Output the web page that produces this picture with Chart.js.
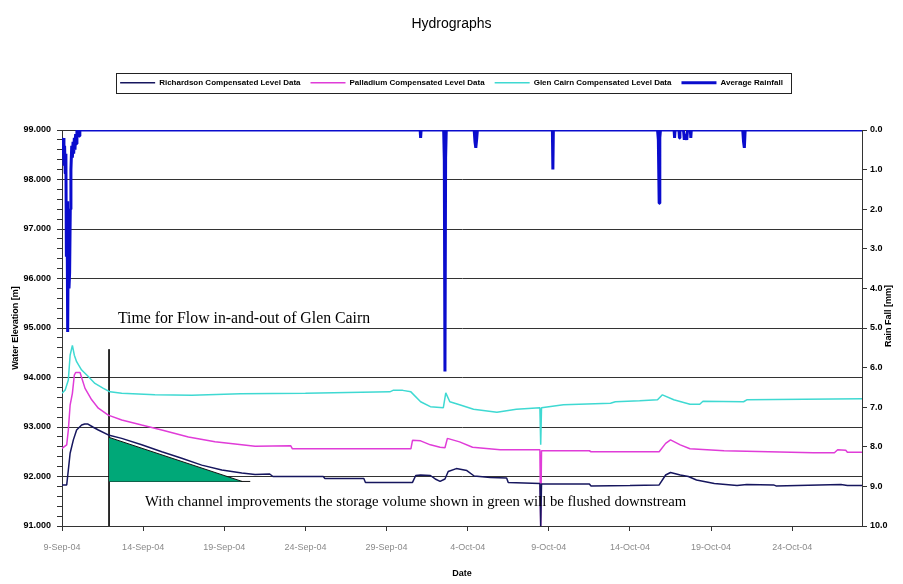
<!DOCTYPE html>
<html><head><meta charset="utf-8">
<script src="https://cdn.jsdelivr.net/npm/chart.js@4/dist/chart.umd.min.js"></script>
<style>html,body{margin:0;padding:0;background:#fff;}</style>
</head><body>
<canvas id="c" width="903" height="584"></canvas>
<script>
// ---- data (x = days since 9-Sep-04 00:00) ----
const xTickDays = [0, 5, 10, 15, 20, 25, 30, 35, 40, 45];
const xTickLabels = ['9-Sep-04','14-Sep-04','19-Sep-04','24-Sep-04','29-Sep-04','4-Oct-04','9-Oct-04','14-Oct-04','19-Oct-04','24-Oct-04'];
const seriesNames = ['Richardson Compensated Level Data','Palladium Compensated Level Data','Glen Cairn Compensated Level Data','Average Rainfall'];

const richDays = [0,0.29,0.39,0.5,0.7,0.9,1.21,1.4,1.6,1.9,2.24,2.85,3.68,4.91,6.15,7.38,8.61,9.85,11.08,11.9,12.8,13.0,16.1,16.2,18.6,18.7,21.6,21.8,22.1,22.7,23.0,23.3,23.6,23.8,24.3,24.95,25.4,26.4,27.4,27.5,29.45,29.5,29.55,32.5,32.6,35.0,36.8,37.2,37.5,38.1,38.6,39.1,40.2,41.6,42.2,43.85,44.0,48.0,48.4,49.3];
const richLevels = [91.83,91.83,92.13,92.47,92.74,92.94,93.04,93.06,93.06,93.0,92.94,92.84,92.77,92.64,92.5,92.37,92.23,92.13,92.07,92.04,92.05,92.0,92.0,91.96,91.96,91.88,91.88,92.02,92.03,92.02,91.95,91.9,91.95,92.1,92.16,92.12,92.01,91.98,91.97,91.88,91.86,91.0,91.85,91.85,91.81,91.82,91.83,92.03,92.08,92.03,92.0,91.93,91.86,91.82,91.84,91.83,91.81,91.84,91.82,91.82];

const pallDays = [0,0.29,0.39,0.5,0.64,0.76,0.84,1.11,1.42,1.83,2.24,2.85,3.68,4.91,6.15,7.79,9.43,11.08,11.9,14.1,14.2,21.5,21.6,22.1,22.7,23.3,23.6,23.75,24.5,25.3,27.0,29.45,29.5,29.55,32.5,32.6,36.8,37.2,37.5,38.1,38.7,40.8,46.3,47.6,47.8,48.3,48.4,49.3];
const pallLevels = [92.57,92.64,92.94,93.44,93.68,94.05,94.1,94.1,93.78,93.55,93.38,93.24,93.14,93.04,92.94,92.8,92.7,92.64,92.61,92.62,92.56,92.56,92.73,92.72,92.64,92.59,92.58,92.77,92.7,92.59,92.54,92.54,91.0,92.52,92.52,92.5,92.5,92.67,92.74,92.64,92.56,92.52,92.48,92.48,92.54,92.53,92.49,92.49];

const glenDays = [0,0.2,0.39,0.5,0.64,0.76,0.9,1.21,1.62,2.03,2.55,2.96,3.68,5.73,8.0,11.0,15.0,20.2,20.4,21.0,21.5,22.1,22.7,23.5,23.65,23.9,24.5,25.36,26.8,28.0,29.45,29.5,29.55,30.9,33.8,34.1,35.6,36.7,37.0,37.7,38.7,39.3,39.5,42.0,42.2,49.3];
const glenLevels = [93.68,93.75,93.95,94.45,94.65,94.45,94.32,94.15,94.02,93.88,93.78,93.71,93.68,93.65,93.64,93.67,93.68,93.71,93.74,93.74,93.71,93.51,93.41,93.39,93.69,93.51,93.45,93.36,93.3,93.36,93.39,92.64,93.39,93.45,93.48,93.51,93.53,93.55,93.65,93.55,93.46,93.46,93.52,93.51,93.55,93.57];

const rainDays = [0,0.04,0.08,0.12,0.16,0.2,0.24,0.27,0.31,0.35,0.39,0.43,0.47,0.51,0.55,0.6,0.64,0.68,0.72,0.76,0.8,0.84,0.88,0.92,1.05,1.1,22.07,22.1,22.13,23.52,23.56,23.6,23.64,23.68,25.4,25.45,25.5,25.55,25.6,30.22,30.25,30.28,36.7,36.75,36.8,36.84,36.88,37.72,37.75,37.78,38.02,38.05,38.08,38.3,38.35,38.4,38.5,38.55,38.72,38.75,38.78,41.95,42.0,42.05,42.1,49.3];
const rainMm = [0.3,0.6,0.2,0.9,0.4,1.1,0.6,3.2,1.8,5.1,2.4,4.0,3.6,2.0,1.0,0.4,0.7,0.3,0.6,0.2,0.5,0.1,0.35,0,0.15,0,0,0.2,0,0,0.75,6.1,0.7,0,0,0.3,0.45,0.25,0,0,1.0,0,0,0.25,1.85,0.2,0,0,0.2,0,0,0.2,0,0,0.25,0.1,0.25,0,0,0.2,0,0,0.3,0.45,0,0];

// ---- annotation marks ----
const markerDays = [2.9, 2.9];
const markerLevels = [94.57, 91.0];
const wedgeDays = [2.9, 11.1];
const wedgeLevels = [92.79, 91.9];
const wedgeBaseLevel = 91.9;
const baseDays = [2.9, 11.6];
const baseLevels = [91.9, 91.9];
const noteTexts = ['Time for Flow in-and-out of Glen Cairn', 'With channel improvements the storage volume shown in green will be flushed downstream'];
const noteDays = [3.45, 5.12];
const noteLevels = [95.18, 91.48];
const noteFontPx = [15.8, 14.7];

const pts = (xs, ys) => xs.map((x, i) => ({x: x, y: ys[i]}));
const isInt = v => Math.abs(v - Math.round(v)) < 1e-6;

const NARROW = "'Liberation Sans Narrow', 'Liberation Sans', Arial, sans-serif";
const SERIF = "'Liberation Serif', 'Times New Roman', serif";

const extras = {
  id: 'extras',
  beforeDraw(chart) {
    const c = chart.ctx; c.save(); c.fillStyle = '#fff'; c.fillRect(0, 0, chart.width, chart.height); c.restore();
  },
  afterDraw(chart) {
    const c = chart.ctx;
    const xs = chart.scales.x, ys = chart.scales.y, y2 = chart.scales.y2;
    // legend frame
    const hb = chart.legend.legendHitBoxes;
    if (hb && hb.length) {
      let l = Infinity, r = -Infinity, t = Infinity, b = -Infinity;
      hb.forEach(h => { l = Math.min(l, h.left); r = Math.max(r, h.left + h.width); t = Math.min(t, h.top); b = Math.max(b, h.top + h.height); });
      c.save(); c.strokeStyle = '#222'; c.lineWidth = 1;
      c.strokeRect(Math.round(l - 4) + 0.5, Math.round(t - 6) + 0.5, Math.round(r - l + 12), Math.round(b - t + 12));
      c.restore();
    }
    // notes
    c.save(); c.fillStyle = '#000'; c.textBaseline = 'middle'; c.textAlign = 'left';
    noteTexts.forEach((t, i) => {
      c.font = noteFontPx[i] + 'px ' + SERIF;
      c.fillText(t, xs.getPixelForValue(noteDays[i]), ys.getPixelForValue(noteLevels[i]));
    });
    c.restore();
    // right axis title (reads bottom-to-top)
    c.save(); c.fillStyle = '#000'; c.font = 'bold 9px ' + NARROW; c.textAlign = 'center'; c.textBaseline = 'middle';
    c.translate(y2.right - 14, (y2.top + y2.bottom) / 2 - 12); c.rotate(-Math.PI / 2);
    c.fillText('Rain Fall [mm]', 0, 0); c.restore();
  }
};

const lineDs = (label, xs, ys, color, width, axis) => ({
  label: label, data: pts(xs, ys), borderColor: color, backgroundColor: color, borderWidth: width,
  pointRadius: 0, pointStyle: 'line', tension: 0, fill: false, yAxisID: axis, borderJoinStyle: 'bevel'
});

new Chart(document.getElementById('c'), {
  type: 'line',
  data: {
    datasets: [
      lineDs(seriesNames[0], richDays, richLevels, '#16165e', 1.5, 'y'),
      lineDs(seriesNames[1], pallDays, pallLevels, '#e03cd8', 1.5, 'y'),
      lineDs(seriesNames[2], glenDays, glenLevels, '#3fd9d2', 1.5, 'y'),
      lineDs(seriesNames[3], rainDays, rainMm, '#0a0ccd', 3, 'y2'),
      Object.assign(lineDs('wedge', wedgeDays, wedgeLevels, '#111', 1, 'y'), {backgroundColor: '#00a878', fill: {value: wedgeBaseLevel}}),
      lineDs('base', baseDays, baseLevels, '#111', 1, 'y'),
      lineDs('marker', markerDays, markerLevels, '#111', 1, 'y')
    ]
  },
  options: {
    responsive: false, animation: false, devicePixelRatio: 1,
    layout: {padding: 0},
    plugins: {
      title: {display: true, text: 'Hydrographs', color: '#000', font: {family: NARROW, size: 14, weight: 'normal'}, padding: {top: 16, bottom: 36}},
      subtitle: {display: true, text: '', weight: 500, font: {size: 10}, padding: {top: 21.2, bottom: 0}},
      legend: {
        position: 'top',
        labels: {usePointStyle: true, pointStyleWidth: 35, padding: 10, color: '#000',
          font: {family: NARROW, size: 8, weight: 'bold'},
          filter: item => item.datasetIndex < 4}
      },
      tooltip: {enabled: false}
    },
    scales: {
      x: {
        type: 'linear', position: 'bottom', min: 0, max: 49.3,
        afterBuildTicks: s => { s.ticks = xTickDays.map(v => ({value: v})); },
        afterFit: s => { s.height = 58; },
        ticks: {callback: (v, i) => xTickLabels[i], color: '#8a8a8a', font: {family: NARROW, size: 9}, padding: 11, maxRotation: 0, autoSkip: false},
        grid: {drawOnChartArea: false, tickLength: 5, color: '#333'},
        border: {color: '#333', width: 1},
        title: {display: true, text: 'Date', color: '#000', font: {family: NARROW, size: 9, weight: 'bold'}, padding: {top: 0, bottom: 5}}
      },
      y: {
        type: 'linear', position: 'left', min: 91, max: 99,
        afterFit: s => { s.width = 62; },
        ticks: {stepSize: 0.2, autoSkip: false, callback: v => isInt(v) ? v.toFixed(3) : '', color: '#000', font: {family: NARROW, size: 9, weight: 'bold'}, padding: 6},
        grid: {color: ctx => (ctx.tick && isInt(ctx.tick.value)) ? '#333' : 'rgba(0,0,0,0)', tickColor: '#333', tickLength: 5, lineWidth: 1},
        border: {color: '#333', width: 1},
        title: {display: true, text: 'Water Elevation [m]', color: '#000', font: {family: NARROW, size: 9, weight: 'bold'}, padding: {top: 10, bottom: 0}}
      },
      y2: {
        type: 'linear', position: 'right', min: 0, max: 10, reverse: true,
        afterFit: s => { s.width = 41; },
        ticks: {stepSize: 1, callback: v => v.toFixed(1), color: '#000', font: {family: NARROW, size: 9, weight: 'bold'}, padding: 3},
        grid: {drawOnChartArea: false, tickLength: 5, color: '#333'},
        border: {color: '#333', width: 1}
      }
    }
  },
  plugins: [extras]
});
</script>
</body></html>
